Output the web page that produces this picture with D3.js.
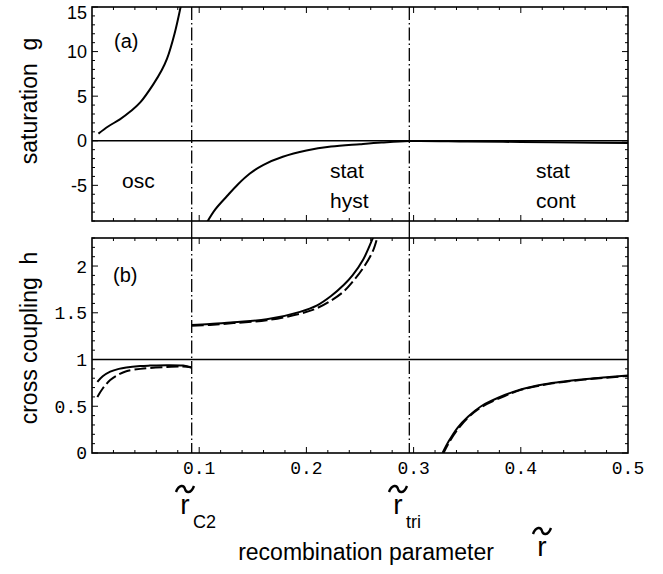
<!DOCTYPE html>
<html>
<head>
<meta charset="utf-8">
<script src="https://cdn.jsdelivr.net/npm/d3@7"></script>
<style>
  body { margin: 0; background: #fff; }
  svg { display: block; }
  .sans { font-family: "Liberation Sans", Arial, sans-serif; }
  .mono { font-family: "Liberation Mono", "Courier New", monospace; }
</style>
</head>
<body>
<svg id="chart" width="663" height="574"></svg>
<script>
// x ticks (shared)
const xTicks = [0.1, 0.2, 0.3, 0.4, 0.5];
const rC2 = 0.093;
const rTri = 0.296;

// panel (a): saturation g
const gTicks = [-5, 0, 5, 10, 15];
const aLeftR = [0.006, 0.015, 0.026, 0.036, 0.045, 0.057, 0.065, 0.070, 0.077, 0.083];
const aLeftG = [0.8, 1.6, 2.4, 3.3, 4.3, 6.3, 7.9, 9.2, 12.0, 15.2];
const aRightR = [0.107, 0.115, 0.126, 0.136, 0.147, 0.16, 0.178, 0.2, 0.223, 0.25, 0.27, 0.296, 0.35, 0.4, 0.45, 0.5];
const aRightG = [-9.2, -7.7, -6.2, -4.9, -3.7, -2.7, -1.8, -1.1, -0.65, -0.38, -0.2, -0.03, -0.08, -0.14, -0.2, -0.25];

// panel (b): cross coupling h
const hTicks = [0, 0.5, 1, 1.5, 2];
const bLowR = [0.005, 0.01, 0.017, 0.025, 0.032, 0.045, 0.054, 0.07, 0.085, 0.093];
const bLowSolid = [0.76, 0.82, 0.87, 0.90, 0.915, 0.93, 0.935, 0.94, 0.935, 0.915];
const bLowDash = [0.60, 0.69, 0.78, 0.84, 0.875, 0.90, 0.91, 0.92, 0.925, 0.915];
const bUpR = [0.093, 0.11, 0.132, 0.163, 0.194, 0.21, 0.223, 0.235, 0.243, 0.253, 0.262, 0.266];
const bUpSolid = [1.37, 1.38, 1.40, 1.43, 1.51, 1.58, 1.68, 1.80, 1.90, 2.07, 2.3, 2.42];
const bUpDash = [1.36, 1.37, 1.39, 1.42, 1.49, 1.55, 1.63, 1.73, 1.83, 1.98, 2.16, 2.3];
const bRightR = [0.327, 0.333, 0.341, 0.351, 0.363, 0.385, 0.40, 0.422, 0.44, 0.459, 0.48, 0.5];
const bRightSolid = [0, 0.13, 0.27, 0.39, 0.50, 0.62, 0.68, 0.735, 0.765, 0.79, 0.81, 0.83];
const bRightDash = [-0.02, 0.11, 0.25, 0.38, 0.49, 0.61, 0.675, 0.73, 0.76, 0.785, 0.805, 0.825];

const svg = d3.select("#chart");
const left = 92, right = 628;

const x = d3.scaleLinear().domain([0, 0.5]).range([left, right]);
const yA = d3.scaleLinear().domain([-9, 15]).range([221, 7]);
const yB = d3.scaleLinear().domain([0, 2.3]).range([453, 238]);

const zip = (xs, ys) => xs.map((v, i) => [v, ys[i]]);

function panel(id, y, yTickVals, minorStep, tickClass) {
    const [y0, y1] = y.range();
    const g = svg.append("g");

    g.append("clipPath").attr("id", id)
        .append("rect").attr("x", left).attr("y", y1).attr("width", right - left).attr("height", y0 - y1);

    // inward ticks, minor + major, all four sides
    const xMinor = d3.range(0.02, 0.5, 0.02);
    const yMinor = d3.range(Math.ceil(y.domain()[0] / minorStep) * minorStep, y.domain()[1] + 1e-9, minorStep);
    const tk = g.append("g").attr("stroke", "#000").attr("stroke-width", 1);
    xMinor.forEach(v => {
        const major = xTicks.some(t => Math.abs(t - v) < 1e-6);
        const len = major ? 6 : 3;
        tk.append("line").attr("x1", x(v)).attr("x2", x(v)).attr("y1", y0).attr("y2", y0 - len);
        tk.append("line").attr("x1", x(v)).attr("x2", x(v)).attr("y1", y1).attr("y2", y1 + len);
    });
    yMinor.forEach(v => {
        const major = yTickVals.some(t => Math.abs(t - v) < 1e-6);
        const len = major ? 6 : 3;
        tk.append("line").attr("x1", left).attr("x2", left + len).attr("y1", y(v)).attr("y2", y(v));
        tk.append("line").attr("x1", right).attr("x2", right - len).attr("y1", y(v)).attr("y2", y(v));
    });

    // y tick labels
    g.append("g").selectAll("text").data(yTickVals).join("text")
        .attr("class", tickClass)
        .attr("x", left - 5)
        .attr("y", d => Math.max(y(d), 13))
        .attr("dy", "0.36em")
        .attr("text-anchor", "end")
        .attr("font-size", 18)
        .text(d => d);

    // frame
    g.append("rect").attr("x", left).attr("y", y1).attr("width", right - left).attr("height", y0 - y1)
        .attr("fill", "none").attr("stroke", "#000").attr("stroke-width", 1.6);

    // dash-dot markers
    [rC2, rTri].forEach(r => {
        g.append("line").attr("x1", x(r)).attr("x2", x(r)).attr("y1", y1).attr("y2", y0)
            .attr("stroke", "#000").attr("stroke-width", 1.3)
            .attr("stroke-dasharray", "13,3,1.5,3");
    });
    return g;
}

const gA = panel("clipA", yA, gTicks, 1, "sans");
const gB = panel("clipB", yB, hTicks, 0.1, "mono");

// short solid links between panels
[rC2, rTri].forEach(r => {
    svg.append("line").attr("x1", x(r)).attr("x2", x(r)).attr("y1", 221).attr("y2", 238)
        .attr("stroke", "#000").attr("stroke-width", 1.3);
});

// reference lines
gA.append("line").attr("x1", left).attr("x2", right).attr("y1", yA(0)).attr("y2", yA(0))
    .attr("stroke", "#000").attr("stroke-width", 1.6);
gB.append("line").attr("x1", left).attr("x2", right).attr("y1", yB(1)).attr("y2", yB(1))
    .attr("stroke", "#000").attr("stroke-width", 1.6);

const lineA = d3.line().x(d => x(d[0])).y(d => yA(d[1])).curve(d3.curveCatmullRom.alpha(0.5));
const lineB = d3.line().x(d => x(d[0])).y(d => yB(d[1])).curve(d3.curveCatmullRom.alpha(0.5));

const ca = gA.append("g").attr("clip-path", "url(#clipA)").attr("fill", "none").attr("stroke", "#000");
ca.append("path").attr("d", lineA(zip(aLeftR, aLeftG))).attr("stroke-width", 2);
ca.append("path").attr("d", lineA(zip(aRightR, aRightG))).attr("stroke-width", 2);

const cb = gB.append("g").attr("clip-path", "url(#clipB)").attr("fill", "none").attr("stroke", "#000");
[[bLowR, bLowSolid, bLowDash], [bUpR, bUpSolid, bUpDash], [bRightR, bRightSolid, bRightDash]].forEach(([r, s, dsh]) => {
    cb.append("path").attr("d", lineB(zip(r, s))).attr("stroke-width", 2);
    cb.append("path").attr("d", lineB(zip(r, dsh))).attr("stroke-width", 2).attr("stroke-dasharray", "12,4");
});

// x tick labels (bottom panel)
svg.append("g").selectAll("text").data(xTicks).join("text")
    .attr("class", "mono").attr("font-size", 18)
    .attr("x", d => x(d)).attr("y", 474)
    .attr("text-anchor", "middle")
    .text(d => d);

// panel annotations
const note = (t, px, py, fs) => svg.append("text").attr("class", "sans").attr("font-size", fs)
    .attr("x", px).attr("y", py).text(t);
note("(a)", 114, 48, 20);
note("(b)", 113, 282, 20);
note("osc", 122, 188, 21);
note("stat", 330, 178, 21);
note("hyst", 330, 208, 21);
note("stat", 536, 178, 21);
note("cont", 536, 208, 21);

// axis titles
svg.append("text").attr("class", "sans").attr("font-size", 23)
    .attr("transform", "translate(37,101) rotate(-90)").attr("text-anchor", "middle")
    .attr("xml:space", "preserve").text("saturation  g");
svg.append("text").attr("class", "sans").attr("font-size", 23)
    .attr("transform", "translate(37,338) rotate(-90)").attr("text-anchor", "middle")
    .attr("xml:space", "preserve").text("cross coupling  h");
svg.append("text").attr("class", "sans").attr("font-size", 23)
    .attr("x", 366).attr("y", 560).attr("text-anchor", "middle")
    .text("recombination parameter");

// r-tilde symbols: tilde drawn as a path above the r
function rTilde(px, py, sub) {
    const t = svg.append("g");
    t.append("text").attr("class", "sans").attr("font-size", 28)
        .attr("x", px).attr("y", py).attr("text-anchor", "middle").text("r");
    const p = d3.path();
    const ty = py - 25;
    p.moveTo(px - 9, ty + 3);
    p.bezierCurveTo(px - 6, ty - 5, px - 1, ty - 4, px, ty);
    p.bezierCurveTo(px + 1, ty + 4, px + 6, ty + 5, px + 9, ty - 3);
    t.append("path").attr("d", p.toString()).attr("fill", "none")
        .attr("stroke", "#000").attr("stroke-width", 2.4);
    if (sub) t.append("text").attr("class", "sans").attr("font-size", 18)
        .attr("x", px + 8).attr("y", py + 14).text(sub);
}
rTilde(185, 514, "C2");
rTilde(398, 514, "tri");
rTilde(542, 556, null);
</script>
</body>
</html>
